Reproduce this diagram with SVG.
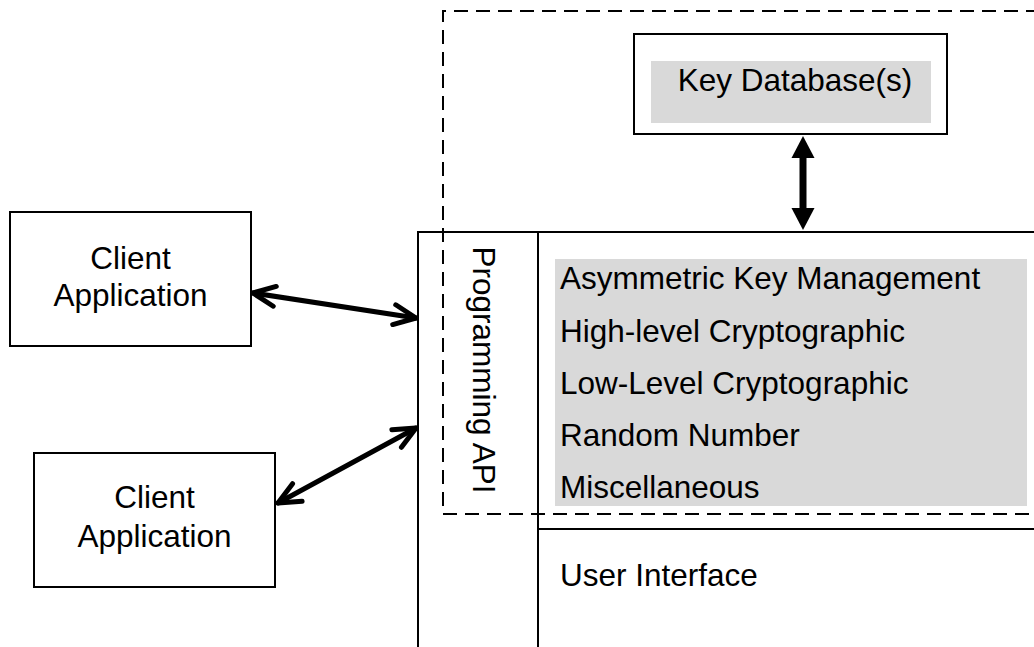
<svg xmlns="http://www.w3.org/2000/svg" width="1034" height="647" viewBox="0 0 1034 647">
<style>
text{font-family:"Liberation Sans",Arial,sans-serif;font-size:31.5px;fill:#000}
.c{text-anchor:middle}
.box{fill:#fff;stroke:#000;stroke-width:2}
.ln{fill:none;stroke:#000;stroke-width:2}
.gray{fill:#d9d9d9}
.dash{fill:none;stroke:#000;stroke-width:2;stroke-dasharray:14 8}
.arr{fill:none;stroke:#000;stroke-width:5;stroke-linecap:round}
</style>
<defs>
<marker id="open" markerUnits="userSpaceOnUse" markerWidth="40" markerHeight="40" viewBox="-30 -20 40 40" refX="0" refY="0" orient="auto-start-reverse" overflow="visible">
<path d="M -22 -10 L 0 0 L -22 10" fill="none" stroke="#000" stroke-width="5" stroke-linecap="round" stroke-linejoin="round"/>
</marker>
<marker id="solid" markerUnits="userSpaceOnUse" markerWidth="40" markerHeight="40" viewBox="-10 -20 40 40" refX="2" refY="0" orient="auto-start-reverse" overflow="visible">
<path d="M 0 -11.5 L 22 0 L 0 11.5 Z" fill="#000"/>
</marker>
</defs>
<rect width="1034" height="647" fill="#fff"/>

<g id="system">
<path class="ln" d="M 1040 232 H 418 V 650"/>
<path class="ln" d="M 538 232 V 650"/>
<path class="ln" d="M 538 529 H 1040"/>
</g>

<g id="api">
<text transform="translate(473,370) rotate(90)" class="c">Programming API</text>
</g>

<g id="functions">
<rect class="gray" x="555" y="259" width="472" height="247"/>
<text x="560" y="289">Asymmetric Key Management</text>
<text x="560" y="342">High-level Cryptographic</text>
<text x="560" y="394">Low-Level Cryptographic</text>
<text x="560" y="446">Random Number</text>
<text x="560" y="498">Miscellaneous</text>
</g>

<g id="ui">
<text x="560" y="586">User Interface</text>
</g>

<g id="boundary">
<path class="dash" d="M 1040 11 H 443 V 514 H 1040"/>
</g>

<g id="keydb">
<rect class="box" x="634" y="34" width="313" height="100"/>
<rect class="gray" x="651" y="61" width="280" height="62"/>
<text x="795" y="91" class="c">Key Database(s)</text>
</g>

<g id="client1">
<rect class="box" x="10" y="212" width="241" height="134"/>
<text x="130.5" y="269" class="c">Client</text>
<text x="130.5" y="306" class="c">Application</text>
</g>

<g id="client2">
<rect class="box" x="34" y="453" width="241" height="134"/>
<text x="154.5" y="508" class="c">Client</text>
<text x="154.5" y="547" class="c">Application</text>
</g>

<g id="connectors">
<line class="arr" x1="253" y1="293" x2="416" y2="318" marker-start="url(#open)" marker-end="url(#open)"/>
<line class="arr" x1="278" y1="503" x2="416" y2="428" marker-start="url(#open)" marker-end="url(#open)"/>
<line x1="803" y1="156" x2="803" y2="210" stroke="#000" stroke-width="7" marker-start="url(#solid)" marker-end="url(#solid)"/>
</g>
</svg>
